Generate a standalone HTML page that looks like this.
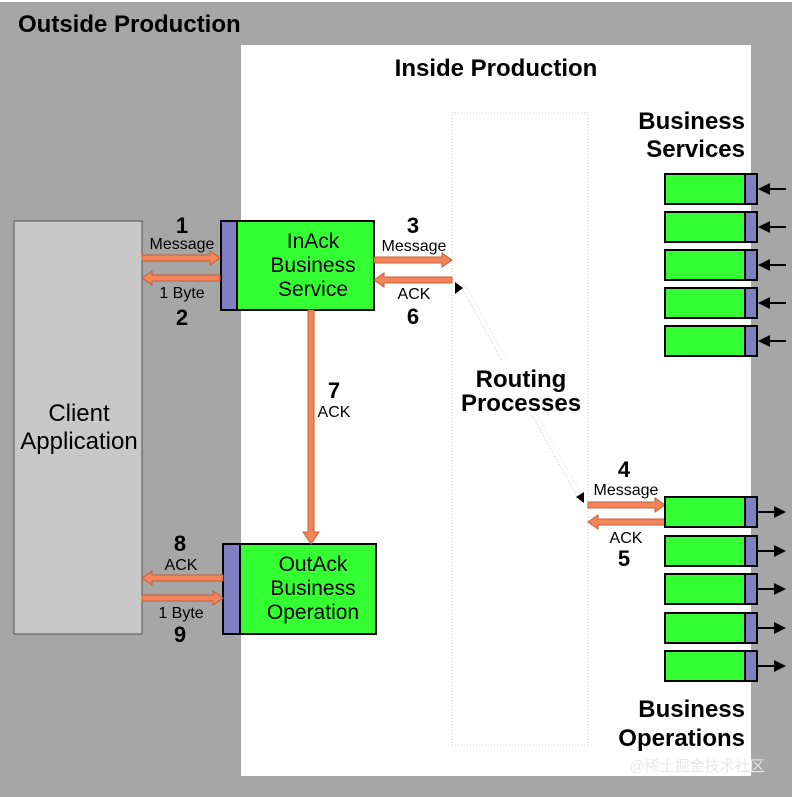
<!DOCTYPE html>
<html><head><meta charset="utf-8"><style>
html,body{margin:0;padding:0;background:#a6a6a6}
svg{display:block}
text{font-family:"Liberation Sans",Arial,sans-serif;fill:#000}
.b{font-weight:bold}
</style></head><body>
<svg width="792" height="797" viewBox="0 0 792 797" xmlns="http://www.w3.org/2000/svg">
<rect x="0" y="0" width="792" height="797" fill="#a6a6a6"/>
<rect x="0" y="0" width="792" height="2" fill="#fff"/>
<rect x="241" y="45" width="510" height="731" fill="#fff"/>
<text x="18" y="32" class="b" font-size="24">Outside Production</text>
<text x="496" y="76" class="b" font-size="24" text-anchor="middle">Inside Production</text>
<rect x="452" y="113" width="136" height="632" fill="none" stroke="#ccc" stroke-width="1" stroke-dasharray="1,2"/>
<line x1="462" y1="288" x2="578" y2="498" stroke="#ccc" stroke-dasharray="1,2"/>
<line x1="466" y1="286" x2="582" y2="496" stroke="#ddd" stroke-dasharray="1,2"/>
<rect x="455" y="360" width="130" height="55" fill="#fff"/>
<text x="521" y="387" class="b" font-size="24" text-anchor="middle">Routing</text>
<text x="521" y="411" class="b" font-size="24" text-anchor="middle">Processes</text>
<polygon points="455,282 463,288 455,294" fill="#000"/>
<polygon points="584,492 576,497 584,503" fill="#000"/>

<rect x="14" y="221" width="128" height="413" fill="#c8c8c8" stroke="#555" stroke-width="1"/>
<text x="79" y="421" font-size="24" text-anchor="middle">Client</text>
<text x="79" y="449" font-size="24" text-anchor="middle">Application</text>

<rect x="221" y="221" width="16" height="89" fill="#8080c0" stroke="#000" stroke-width="2"/>
<rect x="237" y="221" width="137" height="89" fill="#33ff33" stroke="#000" stroke-width="2"/>
<text x="313" y="248" font-size="21" text-anchor="middle">InAck</text>
<text x="313" y="272" font-size="21" text-anchor="middle">Business</text>
<text x="313" y="296" font-size="21" text-anchor="middle">Service</text>

<rect x="223" y="544" width="17" height="90" fill="#8080c0" stroke="#000" stroke-width="2"/>
<rect x="240" y="544" width="136" height="90" fill="#33ff33" stroke="#000" stroke-width="2"/>
<text x="313" y="571" font-size="21" text-anchor="middle">OutAck</text>
<text x="313" y="595" font-size="21" text-anchor="middle">Business</text>
<text x="313" y="619" font-size="21" text-anchor="middle">Operation</text>

<g fill="#f4845a" stroke="#c0603a" stroke-width="1">
<polygon points="142,255 210,255 210,251 220,258 210,265 210,261 142,261"/>
<polygon points="220,275 152,275 152,271 142,278 152,285 152,281 220,281"/>
<polygon points="374,257 442,257 442,253 452,260 442,267 442,263 374,263"/>
<polygon points="452,277 384,277 384,273 374,280 384,287 384,283 452,283"/>
<polygon points="308,310 314,310 314,532 319,532 311,544 303,532 308,532"/>
<polygon points="223,575 152,575 152,571 142,578 152,585 152,581 223,581"/>
<polygon points="142,595 213,595 213,591 223,598 213,605 213,601 142,601"/>
<polygon points="588,502 655,502 655,498 665,505 655,512 655,508 588,508"/>
<polygon points="665,519 598,519 598,515 588,522 598,529 598,525 665,525"/>
</g>
<g font-size="16" text-anchor="middle">
<text x="182" y="249">Message</text><text x="182" y="298">1 Byte</text>
<text x="414" y="251">Message</text><text x="414" y="299">ACK</text>
<text x="334" y="417">ACK</text>
<text x="181" y="570">ACK</text><text x="181" y="618">1 Byte</text>
<text x="626" y="495">Message</text><text x="626" y="543">ACK</text>
</g>
<g font-size="22" class="b" text-anchor="middle">
<text x="182" y="233">1</text><text x="182" y="325">2</text>
<text x="413" y="233">3</text><text x="413" y="324">6</text>
<text x="334" y="398">7</text>
<text x="180" y="551">8</text><text x="180" y="642">9</text>
<text x="624" y="477">4</text><text x="624" y="566">5</text>
</g>
<text x="745" y="129" class="b" font-size="24" text-anchor="end">Business</text>
<text x="745" y="157" class="b" font-size="24" text-anchor="end">Services</text>
<text x="745" y="717" class="b" font-size="24" text-anchor="end">Business</text>
<text x="745" y="746" class="b" font-size="24" text-anchor="end">Operations</text>

<g stroke="#000" stroke-width="2">
<rect x="665" y="174" width="80" height="30" fill="#33ff33"/><rect x="745" y="174" width="12" height="30" fill="#8080c0"/>
<rect x="665" y="212" width="80" height="30" fill="#33ff33"/><rect x="745" y="212" width="12" height="30" fill="#8080c0"/>
<rect x="665" y="250" width="80" height="30" fill="#33ff33"/><rect x="745" y="250" width="12" height="30" fill="#8080c0"/>
<rect x="665" y="288" width="80" height="30" fill="#33ff33"/><rect x="745" y="288" width="12" height="30" fill="#8080c0"/>
<rect x="665" y="326" width="80" height="30" fill="#33ff33"/><rect x="745" y="326" width="12" height="30" fill="#8080c0"/>
<rect x="665" y="497" width="80" height="30" fill="#33ff33"/><rect x="745" y="497" width="12" height="30" fill="#8080c0"/>
<rect x="665" y="536" width="80" height="30" fill="#33ff33"/><rect x="745" y="536" width="12" height="30" fill="#8080c0"/>
<rect x="665" y="574" width="80" height="30" fill="#33ff33"/><rect x="745" y="574" width="12" height="30" fill="#8080c0"/>
<rect x="665" y="613" width="80" height="30" fill="#33ff33"/><rect x="745" y="613" width="12" height="30" fill="#8080c0"/>
<rect x="665" y="651" width="80" height="30" fill="#33ff33"/><rect x="745" y="651" width="12" height="30" fill="#8080c0"/>
</g>
<g stroke="#000" stroke-width="2">
<line x1="786" y1="189" x2="766" y2="189"/><line x1="786" y1="227" x2="766" y2="227"/><line x1="786" y1="265" x2="766" y2="265"/><line x1="786" y1="303" x2="766" y2="303"/><line x1="786" y1="341" x2="766" y2="341"/>
<line x1="757" y1="512" x2="776" y2="512"/><line x1="757" y1="551" x2="776" y2="551"/><line x1="757" y1="589" x2="776" y2="589"/><line x1="757" y1="628" x2="776" y2="628"/><line x1="757" y1="666" x2="776" y2="666"/>
</g>
<g fill="#000">
<polygon points="758,189 770,183 770,195"/><polygon points="758,227 770,221 770,233"/><polygon points="758,265 770,259 770,271"/><polygon points="758,303 770,297 770,309"/><polygon points="758,341 770,335 770,347"/>
<polygon points="786,512 774,506 774,518"/><polygon points="786,551 774,545 774,557"/><polygon points="786,589 774,583 774,595"/><polygon points="786,628 774,622 774,634"/><polygon points="786,666 774,660 774,672"/>
</g>
<text x="697" y="771" font-size="15" style="fill:#e8e8e8" text-anchor="middle" font-family="'Liberation Sans','Noto Sans CJK SC',sans-serif">@稀土掘金技术社区</text>
</svg>
</body></html>
